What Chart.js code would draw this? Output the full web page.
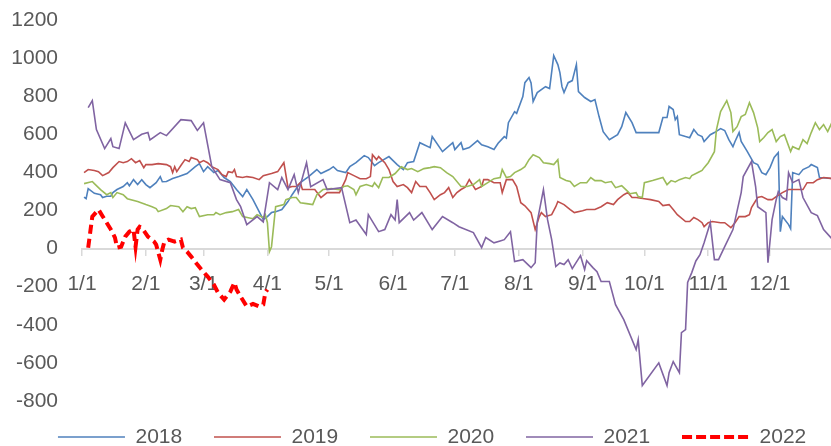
<!DOCTYPE html>
<html>
<head>
<meta charset="utf-8">
<script src="https://cdn.jsdelivr.net/npm/chart.js@4.4.0/dist/chart.umd.min.js"></script>
<style>
  html, body { margin: 0; padding: 0; background: #ffffff; }
  #wrap { width: 831px; height: 446px; position: relative; }
</style>
</head>
<body>
<div id="wrap"><canvas id="c"></canvas></div>
<script>
// ---- Data (day of year, value) ----
const seriesNames = ['2018', '2019', '2020', '2021', '2022'];
const monthStartDays = [0, 31, 59, 90, 120, 151, 181, 212, 243, 273, 304, 334];
const monthLabels = ['1/1','2/1','3/1','4/1','5/1','6/1','7/1','8/1','9/1','10/1','11/1','12/1'];
const yTickValues = [-800,-600,-400,-200,0,200,400,600,800,1000,1200];

const days2018 = [1,2,3,6,9,10,12,14,15,17,20,22,23,25,27,29,31,33,36,38,39,41,44,47,51,55,57,59,61,64,66,69,72,75,78,80,83,86,88,90,92,94,97,100,102,106,110,114,116,120,122,124,128,130,133,137,139,142,144,149,153,156,158,161,164,169,170,175,180,181,184,185,188,192,194,197,200,202,205,206,207,210,211,214,215,217,218,219,221,225,227,229,231,232,233,234,236,238,240,241,244,247,249,251,253,256,260,262,264,267,269,275,280,282,284,285,287,288,289,290,293,295,297,299,301,302,305,307,310,312,314,316,317,319,320,323,326,328,330,332,334,336,338,339,340,343,344,345,348,350,353,354,357,358,364];
const vals2018 = [270,262,315,290,283,268,275,275,294,310,326,346,330,362,336,362,336,320,346,378,351,352,368,378,394,430,446,404,430,399,410,373,352,310,273,310,257,194,152,168,189,194,205,247,283,346,378,415,394,415,430,410,399,430,451,488,478,436,451,483,441,415,451,457,556,530,588,509,556,520,556,520,530,567,545,535,520,553,588,580,661,719,710,798,871,898,870,772,819,850,840,1013,966,924,850,819,871,882,966,824,793,772,782,693,614,572,598,640,714,661,609,609,609,688,688,746,730,677,693,598,588,582,625,598,588,562,598,609,630,620,572,535,562,609,562,509,451,441,399,388,425,478,504,89,168,126,105,399,388,415,430,441,425,373,368];

const days2019 = [1,3,6,8,10,13,15,18,20,22,24,26,28,30,31,34,37,41,43,44,45,46,48,50,52,53,56,57,59,61,63,66,68,70,71,73,74,75,78,80,83,86,88,92,95,98,100,102,104,106,107,111,113,116,119,125,128,129,132,135,138,140,141,143,144,147,149,151,153,156,158,160,162,164,167,169,171,174,176,178,180,182,184,186,188,191,194,195,197,200,203,204,206,209,211,213,215,218,220,222,223,225,228,230,231,234,237,239,243,245,249,252,255,258,260,263,265,267,269,273,276,280,282,285,287,289,293,295,297,299,301,302,304,306,310,312,315,317,319,322,324,325,328,330,333,335,337,340,343,345,348,350,352,355,357,360,364];
const vals2019 = [399,415,410,404,383,399,425,457,451,457,472,451,462,425,441,441,446,441,430,399,430,404,436,467,457,478,467,451,462,451,430,415,388,378,404,399,415,378,373,378,373,362,383,394,404,451,320,326,326,346,310,310,310,268,294,294,362,399,383,367,367,378,493,467,483,451,415,352,326,336,320,294,352,326,326,294,257,283,294,320,268,294,310,322,362,310,326,362,362,346,346,294,362,362,326,241,225,189,100,168,189,168,178,220,247,231,205,189,199,205,205,220,241,231,257,283,294,268,268,262,257,247,226,231,205,178,142,142,163,152,136,115,136,142,136,136,110,136,168,168,178,215,268,273,257,257,273,294,310,310,310,310,346,346,362,373,368];

const days2020 = [1,5,6,9,12,14,15,17,20,22,27,31,34,36,37,41,43,47,49,51,53,55,57,61,64,65,67,70,73,76,78,83,85,88,89,90,91,92,94,98,99,102,104,106,109,112,114,117,121,125,127,129,132,133,135,138,141,142,144,146,149,152,155,158,160,163,166,169,171,174,177,180,184,187,190,193,194,197,200,203,204,206,208,210,213,215,217,219,222,224,227,229,231,232,235,237,239,242,245,247,249,252,254,257,259,262,265,266,269,270,272,273,277,282,284,286,288,290,293,295,296,299,301,302,304,307,308,310,313,315,316,318,320,322,324,326,328,329,331,333,335,337,339,341,344,345,348,350,352,354,356,358,360,362,364];
const vals2020 = [341,352,341,310,283,294,268,294,283,262,247,231,220,210,194,210,226,220,194,220,210,215,168,178,178,189,178,189,194,205,168,157,178,163,178,136,-16,10,220,231,257,268,268,241,236,231,283,310,315,310,326,330,310,283,326,336,326,346,320,373,373,394,430,415,420,404,420,425,430,425,399,378,326,326,336,362,326,346,367,373,415,373,378,399,415,430,467,493,478,451,446,441,467,373,357,352,326,346,346,373,357,357,346,352,320,330,299,288,294,273,268,346,357,373,336,357,350,362,373,367,383,399,410,425,451,509,625,719,777,714,614,640,693,704,766,714,635,562,583,609,625,562,588,598,509,535,520,572,551,609,661,625,651,614,661];

const days2021 = [3,5,7,11,14,15,18,21,25,29,32,33,38,41,48,53,56,59,63,67,72,75,77,80,85,88,91,95,97,100,103,105,109,111,117,119,126,130,133,138,139,144,147,150,152,153,154,159,161,165,170,175,180,183,190,194,196,200,203,205,208,210,214,216,218,220,221,224,226,228,230,232,234,236,238,242,244,245,248,250,252,256,259,263,269,270,272,280,284,285,287,290,291,293,294,296,298,300,302,305,307,309,312,316,320,321,325,327,328,332,333,335,337,338,340,342,343,345,348,350,354,357,360,364];
const vals2021 = [740,777,625,525,578,535,525,660,572,600,609,570,609,593,677,672,620,660,430,362,346,257,220,126,168,140,346,310,373,310,388,294,451,325,362,310,320,136,150,74,178,89,100,178,150,257,136,189,150,189,100,168,136,115,84,5,58,30,40,47,89,-68,-58,-79,-100,-74,142,310,152,47,-94,-75,-84,-58,-105,-37,-110,-63,-100,-121,-173,-173,-294,-373,-530,-478,-719,-600,-719,-651,-593,-651,-441,-425,-178,-126,-65,-32,31,136,-58,-58,10,100,294,378,457,326,220,189,-74,152,257,299,268,257,399,346,362,268,189,173,100,52];

const days2022 = [3,5,8,10,14,16,17,19,21,23,25,26,27,28,29,32,35,36,38,39,40,42,45,48,49,51,53,56,58,61,64,66,69,72,74,75,77,80,83,86,88,89,90];
const vals2022 = [5,168,205,170,100,58,5,10,63,89,100,10,100,115,110,63,37,21,-58,-5,37,47,37,47,5,-16,-42,-84,-110,-147,-189,-231,-268,-226,-178,-215,-252,-304,-290,-304,-294,-231,-215];

// ---- Build chart ----
function pts(days, vals) { return days.map((d, i) => ({ x: d, y: vals[i] })); }

const colors = ['#4F81BD', '#C0504D', '#9BBB59', '#8064A2', '#FF0000'];
const dayLists = [days2018, days2019, days2020, days2021, days2022];
const valLists = [vals2018, vals2019, vals2020, vals2021, vals2022];

const datasets = seriesNames.map((name, i) => ({
  label: name,
  data: pts(dayLists[i], valLists[i]),
  borderColor: colors[i],
  backgroundColor: colors[i],
  borderWidth: i === 4 ? 4 : 1.6,
  borderDash: i === 4 ? [9, 5] : [],
  pointRadius: 0,
  tension: 0,
  order: 4 - i
}));

// dashed legend marker for the 2022 series
const dashMarker = document.createElement('canvas');
dashMarker.width = 67; dashMarker.height = 6;
(function () {
  const g = dashMarker.getContext('2d');
  g.strokeStyle = colors[4]; g.lineWidth = 4; g.setLineDash([10, 4]);
  g.beginPath(); g.moveTo(0, 3); g.lineTo(67, 3); g.stroke();
})();

const FONT = { family: "'Liberation Sans', Arial, sans-serif", size: 21 };
const TXT = '#595959';

const legendShift = {
  id: 'legendShift',
  afterLayout(chart) {
    const lg = chart.legend;
    if (lg) { lg.top -= 6.3; lg.bottom += 10; lg.left += 16.6; lg.right += 16.6; }
  }
};

new Chart(document.getElementById('c'), {
  type: 'line',
  data: { datasets },
  plugins: [legendShift],
  options: {
    responsive: true,
    maintainAspectRatio: false,
    animation: false,
    layout: { padding: { left: 0, top: 20, right: 0, bottom: 0 } },
    plugins: {
      tooltip: { enabled: false },
      legend: {
        position: 'bottom',
        maxHeight: 45,
        labels: {
          font: FONT,
          color: TXT,
          usePointStyle: true,
          pointStyle: 'line',
          pointStyleWidth: 67,
          padding: 31.8,
          sort: (a, b) => a.datasetIndex - b.datasetIndex,
          generateLabels(chart) {
            const items = Chart.defaults.plugins.legend.labels.generateLabels(chart);
            items.forEach(it => { if (it.datasetIndex === 4) it.pointStyle = dashMarker; });
            return items;
          }
        }
      }
    },
    scales: {
      x: {
        type: 'linear',
        min: 0,
        max: 363.6,
        position: { y: 0 },
        afterFit(scale) { scale.height = 0; },
        afterBuildTicks(scale) { scale.ticks = monthStartDays.map(v => ({ value: v })); },
        grid: { display: true, drawOnChartArea: false, drawTicks: true, tickLength: 6, color: '#D9D9D9', lineWidth: 1.5 },
        border: { display: true, color: '#D9D9D9', width: 2 },
        ticks: {
          autoSkip: false,
          maxRotation: 0,
          font: FONT,
          color: TXT,
          padding: 17,
          callback: (v, i) => monthLabels[i]
        }
      },
      y: {
        type: 'linear',
        min: -800,
        max: 1200,
        afterFit(scale) { scale.width = 82; scale.paddingTop = 0; scale.paddingBottom = 0; },
        afterBuildTicks(scale) { scale.ticks = yTickValues.map(v => ({ value: v })); },
        grid: { display: false, drawTicks: false },
        border: { display: false },
        ticks: { font: FONT, color: TXT, padding: 24, callback: (v) => String(v) }
      }
    }
  }
});
</script>
</body>
</html>
